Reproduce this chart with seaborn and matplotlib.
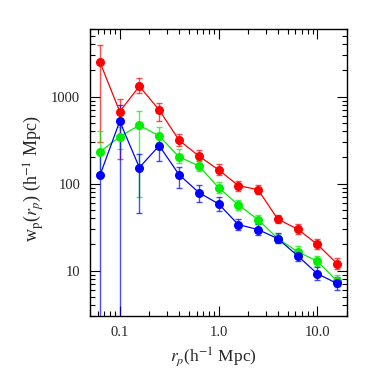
import numpy as np
import pandas as pd
import seaborn as sns
import matplotlib.pyplot as plt
from matplotlib.ticker import FixedLocator, FixedFormatter, LogLocator, NullFormatter

# projected separation bins (h^-1 Mpc)
rp = [0.063, 0.1, 0.158, 0.251, 0.398, 0.631, 1.0, 1.585, 2.512, 3.98, 6.31, 10.0, 15.85]

# w_p values and error bar ends for the three samples
red_wp = [2500, 673, 1316, 703, 316, 208, 144, 95, 85, 39, 30, 20, 12]
red_lo = [300, 190, 1100, 525, 270, 180, 124, 83, 75, 35, 26.5, 17.5, 10.5]
red_hi = [3900, 950, 1620, 855, 373, 243, 166, 108, 96, 44, 34, 23, 14]

green_wp = [231, 347, 469, 353, 203, 160, 90, 57, 38.6, 23.3, 16.5, 12.8, 7.6]
green_lo = [130, 250, 71, 300, 174, 140, 78, 50, 34, 20.5, 14.5, 11.2, 6.4]
green_hi = [404, 450, 690, 450, 250, 185, 104, 65, 44, 26.5, 19, 14.8, 9.0]

blue_wp = [124, 521, 153, 273, 127, 79, 58.5, 33.8, 29.6, 23.3, 14.8, 9.2, 7.1]
blue_lo = [0.1, 0.1, 46, 180, 89, 62, 48, 29, 25.5, 20.5, 12.8, 7.8, 5.9]
blue_hi = [225, 800, 218, 350, 155, 97, 70, 39.5, 34.5, 27, 17.2, 11, 8.5]

series = [
    ("red", red_wp, red_lo, red_hi, "#ff0000"),
    ("green", green_wp, green_lo, green_hi, "#00ee00"),
    ("blue", blue_wp, blue_lo, blue_hi, "#0000ff"),
]

sns.set_style("ticks")
plt.rcParams['font.family'] = ['Liberation Serif', 'DejaVu Serif']
plt.rcParams['mathtext.fontset'] = 'stix'

fig = plt.figure(figsize=(3.74, 3.74), dpi=100)
ax = fig.add_axes([0.2406, 0.155, 0.6874, 0.7675])

rows = []
for name, wp, lo, hi, col in series:
    for x, y in zip(rp, wp):
        rows.append({"rp": x, "wp": y, "sample": name})
df = pd.DataFrame(rows)

for name, wp, lo, hi, col in series:
    wp_a = np.array(wp)
    yerr = [wp_a - np.array(lo), np.array(hi) - wp_a]
    ax.errorbar(rp, wp, yerr=yerr, fmt='none', ecolor=col, elinewidth=1.0,
                capsize=2, capthick=1.0, alpha=0.7, zorder=2)
    sns.lineplot(data=df[df["sample"] == name], x="rp", y="wp", color=col,
                 marker="o", markersize=6.5, markeredgewidth=0, linewidth=0.9,
                 errorbar=None, ax=ax, zorder=3, legend=False)

ax.set_xscale("log")
ax.set_yscale("log")
ax.set_xlim(0.05, 20)
ax.set_ylim(3, 6000)

ax.xaxis.set_major_locator(FixedLocator([0.1, 1.0, 10.0]))
ax.xaxis.set_major_formatter(FixedFormatter(["0.1", "1.0", "10.0"]))
ax.yaxis.set_major_locator(FixedLocator([10, 100, 1000]))
ax.yaxis.set_major_formatter(FixedFormatter(["10", "100", "1000"]))
ax.xaxis.set_minor_locator(LogLocator(base=10, subs=np.arange(2, 10)))
ax.yaxis.set_minor_locator(LogLocator(base=10, subs=np.arange(2, 10)))
ax.xaxis.set_minor_formatter(NullFormatter())
ax.yaxis.set_minor_formatter(NullFormatter())

ax.tick_params(which="both", direction="in", top=True, right=True,
               labelsize=10.5, color="black", width=0.8)
ax.tick_params(which="major", length=7, pad=7)
ax.tick_params(which="minor", length=3.5)
for s in ax.spines.values():
    s.set_linewidth(1.0)
    s.set_color("black")

ax.set_xlabel(r"$r_p$(h$^{-1}$ Mpc)", fontsize=12.5)
ax.set_ylabel(r"w$_\mathrm{p}$($r_p$) (h$^{-1}$ Mpc)", fontsize=13)
ax.xaxis.set_label_coords(0.48, -0.10)
ax.yaxis.set_label_coords(-0.17, 0.48)

fig.savefig("out.png", dpi=100)
